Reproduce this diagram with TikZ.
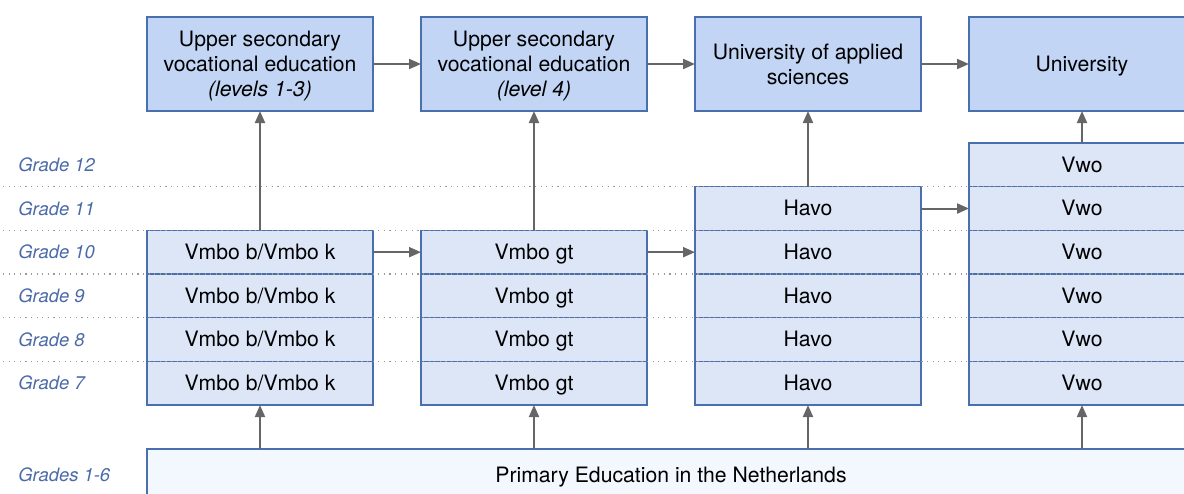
\documentclass[tikz,border=0pt]{standalone}
\usepackage{fontspec}
\setmainfont{TeX Gyre Heros}
\usepackage{xcolor}
\usetikzlibrary{arrows.meta}
\usetikzlibrary{positioning}
\definecolor{boxline}{HTML}{4A6FAE}
\definecolor{topfill}{HTML}{C2D5F5}
\definecolor{gradefill}{HTML}{DCE6F7}
\definecolor{basefill}{HTML}{F3F7FE}
\definecolor{gradetext}{HTML}{4A6AA8}
\definecolor{arrowgray}{HTML}{666666}
\definecolor{gridgray}{HTML}{9A9A9A}
\tikzset{
  Box/.style={draw=boxline, line width=0.75pt, inner sep=0pt, outer sep=0pt,
    minimum width=113pt, align=center}, % all boxes
  TopBox/.style={Box, fill=topfill, minimum height=47pt, text depth=0pt},
  GradeBox/.style={Box, fill=gradefill, minimum height=21.83pt,
    text height=0.72em, text depth=0pt},
  BaseBox/.style={Box, fill=basefill, minimum width=524pt, minimum height=26pt,
    text height=0.72em, text depth=0pt},
  GradeLabel/.style={anchor=west, text=gradetext, inner sep=0pt,
    font=\fontsize{9.2}{11}\selectfont\itshape},
  Arrow/.style={draw=arrowgray, line width=1pt, ->},
  Grid/.style={draw=gridgray, line width=0.6pt, dash pattern=on 0.6pt off 2.2pt}
}
\begin{document}
\begin{tikzpicture}[
x=0.5pt, y=-0.5pt,
font=\fontsize{10.6}{12.6}\selectfont,
>={Triangle[length=6pt,width=5pt]} % arrow tips
]
\useasboundingbox (0,0) rectangle (1184,493);
\clip (0,0) rectangle (1184,493);

%Top row
\node[TopBox] (T1) at (260,64) {Upper secondary\\vocational education\\\textit{(levels 1-3)}};
\node[TopBox] (T2) at (534,64) {Upper secondary\\vocational education\\\textit{(level 4)}};
\node[TopBox] (T3) at (808,64) {University of applied\\sciences};
\node[TopBox] (T4) at (1082,64) {University};

%Grades
\foreach \g in {7,...,10}{%
  \node[GradeBox] (A\g) at (260,{383.2-(\g-7)*43.67}) {Vmbo b/Vmbo k};
  \node[GradeBox] (B\g) at (534,{383.2-(\g-7)*43.67}) {Vmbo gt};
}
\foreach \g in {7,...,11}
  \node[GradeBox] (C\g) at (808,{383.2-(\g-7)*43.67}) {Havo};
\foreach \g in {7,...,12}{%
  \node[GradeBox] (D\g) at (1082,{383.2-(\g-7)*43.67}) {Vwo};
  \node[GradeLabel] (G\g) at (18,{383.2-(\g-7)*43.67}) {Grade \g};
}

%Primary
\node[BaseBox] (P) at (671,475) {Primary Education in the Netherlands};
\node[GradeLabel] (G1) at (18,475) {Grades 1-6};

%Grid lines
\coordinate (L) at (3,0);
\coordinate (R) at (1184,0);
\foreach \g in {7,...,11}
  \draw[Grid] (L |- D\g.north) -- (R |- D\g.north);

%Arrows
\draw[Arrow] (T1) -- (T2);
\draw[Arrow] (T2) -- (T3);
\draw[Arrow] (T3) -- (T4);
\draw[Arrow] (A10) -- (B10);
\draw[Arrow] (B10) -- (C10);
\draw[Arrow] (C11) -- (D11);
\draw[Arrow] (A10) -- (T1);
\draw[Arrow] (B10) -- (T2);
\draw[Arrow] (C11) -- (T3);
\draw[Arrow] (D12) -- (T4);
\foreach \c in {A,B,C,D}
  \draw[Arrow] (\c7 |- P.north) -- (\c7);

\end{tikzpicture}
\end{document}
